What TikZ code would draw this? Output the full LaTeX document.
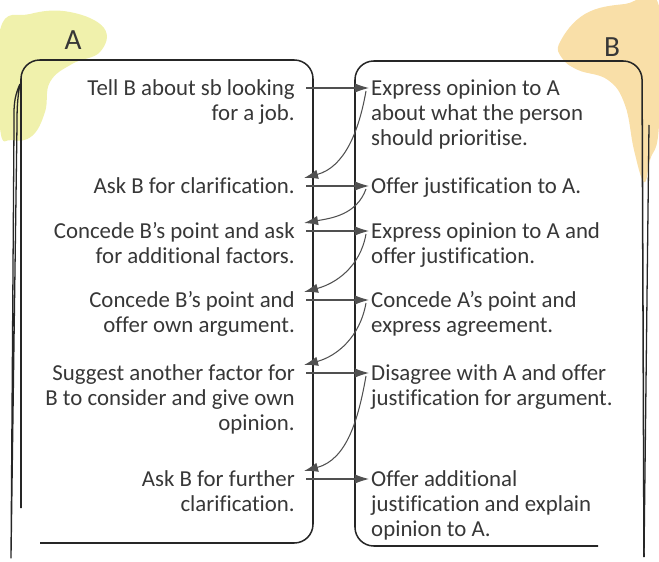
\documentclass[tikz,border=0pt]{standalone}
\usepackage{fontspec}
\setmainfont{Carlito}[Ligatures={NoCommon}]
\usepackage{xcolor}
\usetikzlibrary{arrows.meta,calc}

\definecolor{blobyellow}{RGB}{240,241,172}
\definecolor{bloborange}{RGB}{249,223,168}
\definecolor{txtgrey}{RGB}{55,55,55}
\definecolor{arrowgrey}{RGB}{80,80,80}

\begin{document}
\begin{tikzpicture}[
            x=0.03cm, y=-0.03cm,
            every node/.style={font=\fontsize{19.5}{21.3}\selectfont, text=txtgrey, inner sep=0pt},
            lefttxt/.style={anchor=north east, align=right},
            righttxt/.style={anchor=north west, align=left},
            panel/.style={line width=1.3pt, rounded corners=16pt, black!85},
            talk/.style={-{Latex[length=12pt,width=8pt]}, line width=0.9pt, arrowgrey}
        ]
        \useasboundingbox (0,0) rectangle (659,562);

        %================================================
        % Background blobs behind A and B
        %================================================
        \fill[blobyellow] plot[smooth cycle, tension=0.7] coordinates {
            (0,30) (30,14) (70,12) (104,28) (100,52) (72,64) (50,82)
            (45,112) (32,136) (12,140) (0,128)};
        \fill[bloborange] plot[smooth cycle, tension=0.7] coordinates {
            (560,42) (585,14) (625,4) (659,6) (659,125) (650,160)
            (644,182) (634,150) (625,105) (608,80) (578,70) (562,58)};

        \node (labA) at (73,40) {\fontsize{25}{28}\selectfont A};
        \node (labB) at (612,47) {\fontsize{25}{28}\selectfont B};

        %================================================
        % Panels
        %================================================
        \draw[panel] (40,543) -- (313,543) -- (313,60) -- (21,60) -- (21,508);
        \draw[line width=1.1pt, black!85, line join=round]
            (20,84) to[out=-115,in=90] (14,125) -- (11,558) -- (17,125) to[out=90,in=-100] (20,84);

        \draw[panel] (598,546) -- (355,546) -- (355,61) -- (642,61) -- (644,557);
        \draw[line width=1.1pt, black!85] (644,557) -- (649,125);

        %================================================
        % Left column: A (first baselines 95, 193, 238, 307, 380, 486)
        %================================================
        \node[lefttxt] (a1) at (295,77.5) {\strut Tell B about sb looking\\for a job.};
        \node[lefttxt] (a2) at (295,175.5) {\strut Ask B for clarification.};
        \node[lefttxt] (a3) at (295,220.5) {\strut Concede B’s point and ask\\for additional factors.};
        \node[lefttxt] (a4) at (295,289.5) {\strut Concede B’s point and\\offer own argument.};
        \node[lefttxt] (a5) at (295,362.5) {\strut Suggest another factor for\\B to consider and give own\\opinion.};
        \node[lefttxt] (a6) at (295,468.5) {\strut Ask B for further\\clarification.};

        %================================================
        % Right column: B
        %================================================
        \node[righttxt] (b1) at (371,77.5) {\strut Express opinion to A\\about what the person\\should prioritise.};
        \node[righttxt] (b2) at (371,175.5) {\strut Offer justification to A.};
        \node[righttxt] (b3) at (371,220.5) {\strut Express opinion to A and\\offer justification.};
        \node[righttxt] (b4) at (371,289.5) {\strut Concede A’s point and\\express agreement.};
        \node[righttxt] (b5) at (371,362.5) {\strut Disagree with A and offer\\justification for argument.};
        \node[righttxt] (b6) at (371,468.5) {\strut Offer additional\\justification and explain\\opinion to A.};

        %================================================
        % Arrows A -> B
        %================================================
        \draw[talk] ($(a1.north east)+(11,10.5)$) -- ($(b1.north west)+(-2,10.5)$);
        \draw[talk] ($(a2.north east)+(11,10.5)$) -- ($(b2.north west)+(-2,10.5)$);
        \draw[talk] ($(a3.north east)+(11,10.5)$) -- ($(b3.north west)+(-2,10.5)$);
        \draw[talk] ($(a4.north east)+(11,10.5)$) -- ($(b4.north west)+(-2,10.5)$);
        \draw[talk] ($(a5.north east)+(11,10.5)$) -- ($(b5.north west)+(-2,10.5)$);
        \draw[talk] ($(a6.north east)+(11,10.5)$) -- ($(b6.north west)+(-2,10.5)$);

        %================================================
        % Arrows B -> A
        %================================================
        \draw[talk] ($(b1.north west)+(-5,13.5)$) to[out=-100,in=15] ($(a2.north east)+(9,2.5)$);
        \draw[talk] ($(b2.north west)+(-5,13.5)$) to[out=-110,in=10] ($(a3.north east)+(9,2.5)$);
        \draw[talk] ($(b3.north west)+(-5,13.5)$) to[out=-100,in=15] ($(a4.north east)+(9,2.5)$);
        \draw[talk] ($(b4.north west)+(-5,13.5)$) to[out=-100,in=15] ($(a5.north east)+(9,2.5)$);
        \draw[talk] ($(b5.north west)+(-5,13.5)$) to[out=-100,in=15] ($(a6.north east)+(9,2.5)$);

        \end{tikzpicture}
\end{document}
